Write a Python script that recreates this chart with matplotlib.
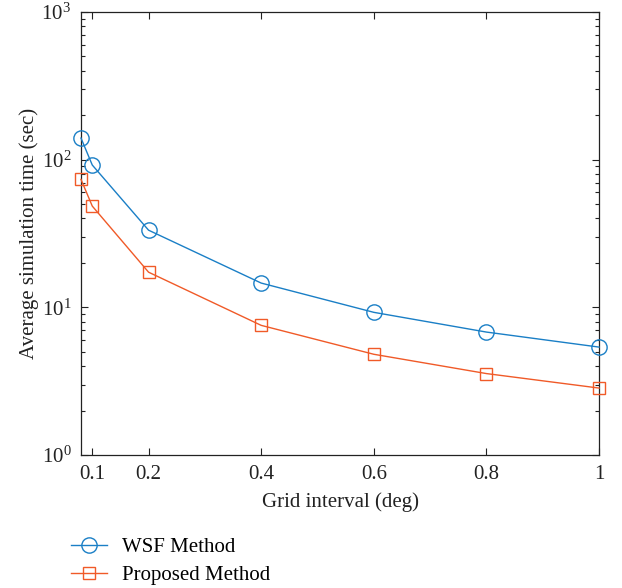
import matplotlib
matplotlib.use("Agg")
import matplotlib.pyplot as plt
from matplotlib.ticker import LogLocator, NullFormatter

# values
grid = [0.08, 0.1, 0.2, 0.4, 0.6, 0.8, 1.0]
wsf_time = [140.0, 92.0, 33.3, 14.6, 9.25, 6.8, 5.38]
proposed_time = [73.5, 48.5, 17.3, 7.55, 4.81, 3.56, 2.84]
xticks = [0.1, 0.2, 0.4, 0.6, 0.8, 1.0]
xticklabels = ["0.1", "0.2", "0.4", "0.6", "0.8", "1"]

plt.rcParams["font.family"] = ["Liberation Serif", "DejaVu Serif"]
plt.rcParams["mathtext.fontset"] = "stix"

blue = "#1a7fc6"
orange = "#f05a28"

fig = plt.figure(figsize=(6.22, 5.88), dpi=100)
ax = fig.add_axes([81 / 622, 1 - 455 / 588, 518 / 622, 443 / 588])

ax.plot(grid, wsf_time, color=blue, lw=1.0, marker="o", ms=11,
        mfc="none", mew=1.0, label="WSF Method", clip_on=False, zorder=3)
ax.plot(grid, proposed_time, color=orange, lw=1.0, marker="s", ms=9,
        mfc="none", mew=1.0, label="Proposed Method", clip_on=False, zorder=3)

ax.set_yscale("log")
ax.set_xlim(0.08, 1.0)
ax.set_ylim(1, 1000)
ax.set_xticks(xticks)
ax.set_xticklabels(xticklabels)
ax.yaxis.set_major_locator(LogLocator(base=10, numticks=10))
ax.yaxis.set_minor_locator(LogLocator(base=10, subs=range(2, 10), numticks=10))
ax.yaxis.set_minor_formatter(NullFormatter())

ax.tick_params(which="both", direction="in", top=True, right=True,
               labelsize=15, colors="#222222")
ax.tick_params(which="major", length=5, width=0.8, pad=7)
ax.tick_params(which="minor", length=3, width=0.8)
for s in ax.spines.values():
    s.set_color("#222222")
    s.set_linewidth(0.9)

ax.set_xlabel("Grid interval (deg)", fontsize=15, color="#222222", labelpad=6)
ax.set_ylabel("Average simulation time (sec)", fontsize=15, color="#222222",
              labelpad=2)

fig.legend(loc="lower left", bbox_to_anchor=(58 / 622, -0.016), borderaxespad=0.2,
           frameon=False, fontsize=15, handlelength=1.75, handletextpad=0.7,
           labelspacing=0.38)

fig.savefig("out.png", dpi=100)
